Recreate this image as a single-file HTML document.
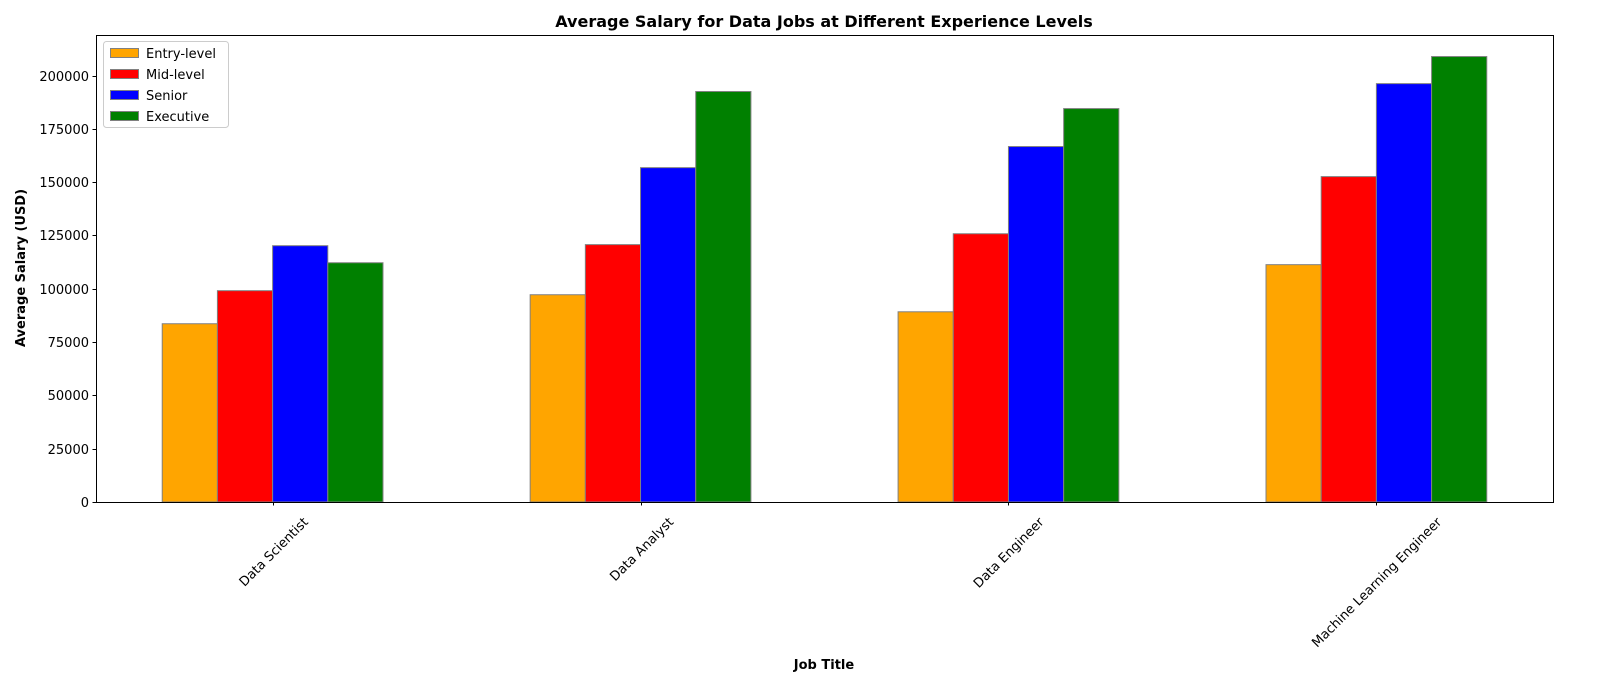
<!DOCTYPE html>
<html><head><meta charset="utf-8">
<style>
html,body{margin:0;padding:0;background:#fff;}
svg{display:block;font-family:"DejaVu Sans","Liberation Sans",sans-serif;}
</style></head>
<body>
<svg id="chart" width="1600" height="700">
<rect x="0" y="0" width="1600" height="700" fill="#fff"/>
<text x="824" y="27" text-anchor="middle" font-size="16" font-weight="bold">Average Salary for Data Jobs at Different Experience Levels</text>
<g id="bars"></g>
<g id="yaxis"></g>
<g id="xaxis"></g>
<rect x="96.5" y="35.5" width="1457" height="467" fill="none" stroke="#000" stroke-width="1"/>
<text x="824" y="669" text-anchor="middle" font-size="13" font-weight="bold">Job Title</text>
<text transform="translate(25,268) rotate(-90)" text-anchor="middle" font-size="13" font-weight="bold">Average Salary (USD)</text>
<g id="legend">
<rect x="103.5" y="41.5" width="125" height="86" rx="3" fill="#fff" fill-opacity="0.8" stroke="#ccc"/>
</g>
</svg>
<script>
const categories = ["Data Scientist","Data Analyst","Data Engineer","Machine Learning Engineer"];
const seriesNames = ["Entry-level","Mid-level","Senior","Executive"];
const entryLevel = [83600, 97200, 89200, 111300];
const midLevel = [99100, 120700, 125800, 152600];
const senior = [120200, 156800, 166700, 196200];
const executive = [112200, 192500, 184500, 208900];
const yTicks = [0,25000,50000,75000,100000,125000,150000,175000,200000];
const colors = ["orange","red","blue","green"];
const series = [entryLevel, midLevel, senior, executive];

const NS = "http://www.w3.org/2000/svg";
const plotL = 96, plotR = 1553, plotT = 35, plotB = 502;
const barW = 0.15;
const nG = categories.length;
const span = (nG-1)+3*barW+barW;
const xMin = -barW/2 - 0.05*span, xMax = (nG-1)+3*barW+barW/2 + 0.05*span;
const yMax = 219000;
function xs(v){ return plotL + (v - xMin)/(xMax - xMin)*(plotR - plotL); }
function ys(v){ return plotB - v/yMax*(plotB - plotT); }
function mk(tag, attrs, parent){ const e=document.createElementNS(NS,tag); for(const k in attrs) e.setAttribute(k,attrs[k]); parent.appendChild(e); return e; }

const bars = document.getElementById('bars');
series.forEach((vals, s) => {
  vals.forEach((v, i) => {
    const cx = i + s*barW;
    const x0 = xs(cx - barW/2), x1 = xs(cx + barW/2);
    const r = mk('rect', {x:x0, y:ys(v), width:x1-x0, height:ys(0)-ys(v), fill:colors[s], stroke:'grey', 'stroke-width':1}, bars);
    
    
  });
});

const ya = document.getElementById('yaxis');
yTicks.forEach(t => {
  const y = Math.round(ys(t)) + 0.5;
  mk('line', {x1:plotL-3.5, x2:plotL, y1:y, y2:y, stroke:'#000'}, ya);
  const tx = mk('text', {x:plotL-7, y:y+4.5, 'text-anchor':'end', 'font-size':13}, ya);
  tx.textContent = t;
  
  
});

const xa = document.getElementById('xaxis');
categories.forEach((c, i) => {
  const x = Math.round(xs(i + 1.5*barW)) + 0.5;
  mk('line', {x1:x, x2:x, y1:plotB, y2:plotB+3.5, stroke:'#000'}, xa);
  const tx = mk('text', {'text-anchor':'middle', 'font-size':13}, xa);
  tx.textContent = c;
  
  
  const w = tx.getComputedTextLength();
  const h = 13;
  const cy = plotB + 13 + (w + h) * 0.7071 / 2;
  tx.setAttribute('transform', `translate(${x},${cy}) rotate(-45)`);
  tx.setAttribute('y', 4.5);
});

const lg = document.getElementById('legend');
seriesNames.forEach((n, s) => {
  const y = 48 + s*21;
  const p = mk('rect', {x:110.5, y:y+0.5, width:28, height:9, fill:colors[s], stroke:'grey'}, lg);
  
  
  const t = mk('text', {x:146, y:y+10, 'font-size':13}, lg);
  t.textContent = n;
  
  
});
</script>
</body></html>
